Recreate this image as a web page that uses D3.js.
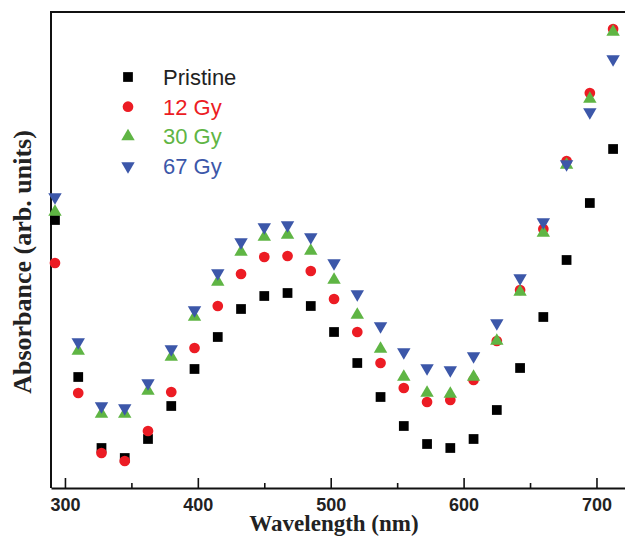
<!DOCTYPE html>
<html>
<head>
<meta charset="utf-8">
<script src="https://cdn.jsdelivr.net/npm/d3@7"></script>
<style>
  body { margin: 0; background: #fff; }
  svg { display: block; }
</style>
</head>
<body>
<div id="chart"></div>
<script>
var svgWidth = 625;
var svgHeight = 539;

// wavelength of each sample (nm)
var wavelengths = [292.5, 310, 327.5, 345, 362.5, 380, 397.5, 415, 432.5, 450, 467.5, 485,
    502.5, 520, 537.5, 555, 572.5, 590, 607.5, 625, 642.5, 660, 677.5, 695, 712.5];

// absorbance, arb. units
var pristine = [2.68, 1.11, 0.40, 0.30, 0.49, 0.82, 1.19, 1.51, 1.79, 1.92, 1.95, 1.82,
    1.56, 1.25, 0.91, 0.62, 0.44, 0.40, 0.49, 0.78, 1.20, 1.71, 2.28, 2.85, 3.39];
var gy12 = [2.25, 0.95, 0.35, 0.27, 0.57, 0.96, 1.40, 1.82, 2.14, 2.31, 2.32, 2.17,
    1.89, 1.56, 1.25, 1.00, 0.86, 0.88, 1.08, 1.47, 1.98, 2.59, 3.27, 3.95, 4.59];
var gy30 = [2.76, 1.37, 0.74, 0.74, 0.97, 1.31, 1.71, 2.06, 2.36, 2.51, 2.53, 2.37,
    2.08, 1.73, 1.39, 1.11, 0.95, 0.94, 1.11, 1.47, 1.96, 2.55, 3.23, 3.89, 4.56];
var gy67 = [2.91, 1.46, 0.82, 0.80, 1.05, 1.39, 1.78, 2.15, 2.46, 2.61, 2.63, 2.51,
    2.25, 1.94, 1.62, 1.36, 1.20, 1.18, 1.32, 1.65, 2.10, 2.66, 3.24, 3.76, 4.29];

var seriesNames = ["Pristine", "12 Gy", "30 Gy", "67 Gy"];
var xTicks = [300, 400, 500, 600, 700];
var xMinorTicks = [350, 450, 550, 650];

var series = [
    { name: seriesNames[0], values: pristine, color: "#000000", shape: d3.symbolSquare, size: 95, rot: 0 },
    { name: seriesNames[1], values: gy12, color: "#ec1c24", shape: d3.symbolCircle, size: 90, rot: 0 },
    { name: seriesNames[2], values: gy30, color: "#5fb544", shape: d3.symbolTriangle, size: 78, rot: 0 },
    { name: seriesNames[3], values: gy67, color: "#3c57a9", shape: d3.symbolTriangle, size: 78, rot: 180 }
];

var svg = d3.select("#chart")
    .append("svg")
    .attr("width", svgWidth)
    .attr("height", svgHeight);

var xScale = d3.scaleLinear()
    .domain([289.5, 732])
    .range([51, 639]);

var yScale = d3.scaleLinear()
    .domain([0, 4.76])
    .range([488, 12]);

// frame (left, top, bottom)
var frame = svg.append("g")
    .attr("stroke", "#111")
    .attr("stroke-width", 2);
frame.append("line").attr("x1", 51).attr("x2", 51).attr("y1", 11).attr("y2", 488);
frame.append("line").attr("x1", 50).attr("x2", 640).attr("y1", 12).attr("y2", 12);

var bottomAxis = d3.axisBottom(xScale)
    .tickValues(xTicks)
    .tickSizeInner(-10)
    .tickSizeOuter(0)
    .tickPadding(10)
    .tickFormat(d3.format("d"));

var xAxis = svg.append("g")
    .attr("transform", `translate(0, 488)`)
    .call(bottomAxis);

xAxis.select(".domain").attr("stroke", "#111").attr("stroke-width", 2);
xAxis.selectAll(".tick line").attr("stroke", "#111").attr("stroke-width", 1.6);
xAxis.selectAll(".tick text")
    .attr("fill", "#222")
    .attr("font-family", "Arial, 'Liberation Sans', sans-serif")
    .attr("font-weight", "bold")
    .attr("font-size", "18px");

var minorAxis = svg.append("g")
    .attr("transform", `translate(0, 488)`)
    .call(d3.axisBottom(xScale).tickValues(xMinorTicks).tickSizeInner(-5).tickSizeOuter(0).tickFormat(""));
minorAxis.select(".domain").remove();
minorAxis.selectAll(".tick line").attr("stroke", "#111").attr("stroke-width", 1.6);

// axis titles
svg.append("text")
    .attr("x", 334)
    .attr("y", 531)
    .attr("text-anchor", "middle")
    .attr("font-family", "'Times New Roman', 'Liberation Serif', serif")
    .attr("font-weight", "bold")
    .attr("font-size", "23px")
    .attr("fill", "#222")
    .text("Wavelength (nm)");

svg.append("text")
    .attr("transform", "translate(31, 262) rotate(-90)")
    .attr("text-anchor", "middle")
    .attr("font-family", "'Times New Roman', 'Liberation Serif', serif")
    .attr("font-weight", "bold")
    .attr("font-size", "26px")
    .attr("fill", "#222")
    .text("Absorbance (arb. units)");

// markers
series.forEach(s => {
    var sym = d3.symbol().type(s.shape).size(s.size);
    svg.append("g")
        .selectAll("path")
        .data(s.values)
        .enter()
        .append("path")
        .attr("d", sym)
        .attr("fill", s.color)
        .attr("transform", (d, i) => `translate(${xScale(wavelengths[i])}, ${yScale(d)}) rotate(${s.rot})`);
});

// legend
var legend = svg.append("g");
series.forEach((s, i) => {
    var cy = 77 + i * 29.7;
    legend.append("path")
        .attr("d", d3.symbol().type(s.shape).size(s.size))
        .attr("fill", s.color)
        .attr("transform", `translate(128, ${cy}) rotate(${s.rot})`);
    legend.append("text")
        .attr("x", 163)
        .attr("y", cy + 8)
        .attr("font-family", "Arial, 'Liberation Sans', sans-serif")
        .attr("font-size", "22px")
        .attr("fill", i === 0 ? "#222" : s.color)
        .text(s.name);
});
</script>
</body>
</html>
